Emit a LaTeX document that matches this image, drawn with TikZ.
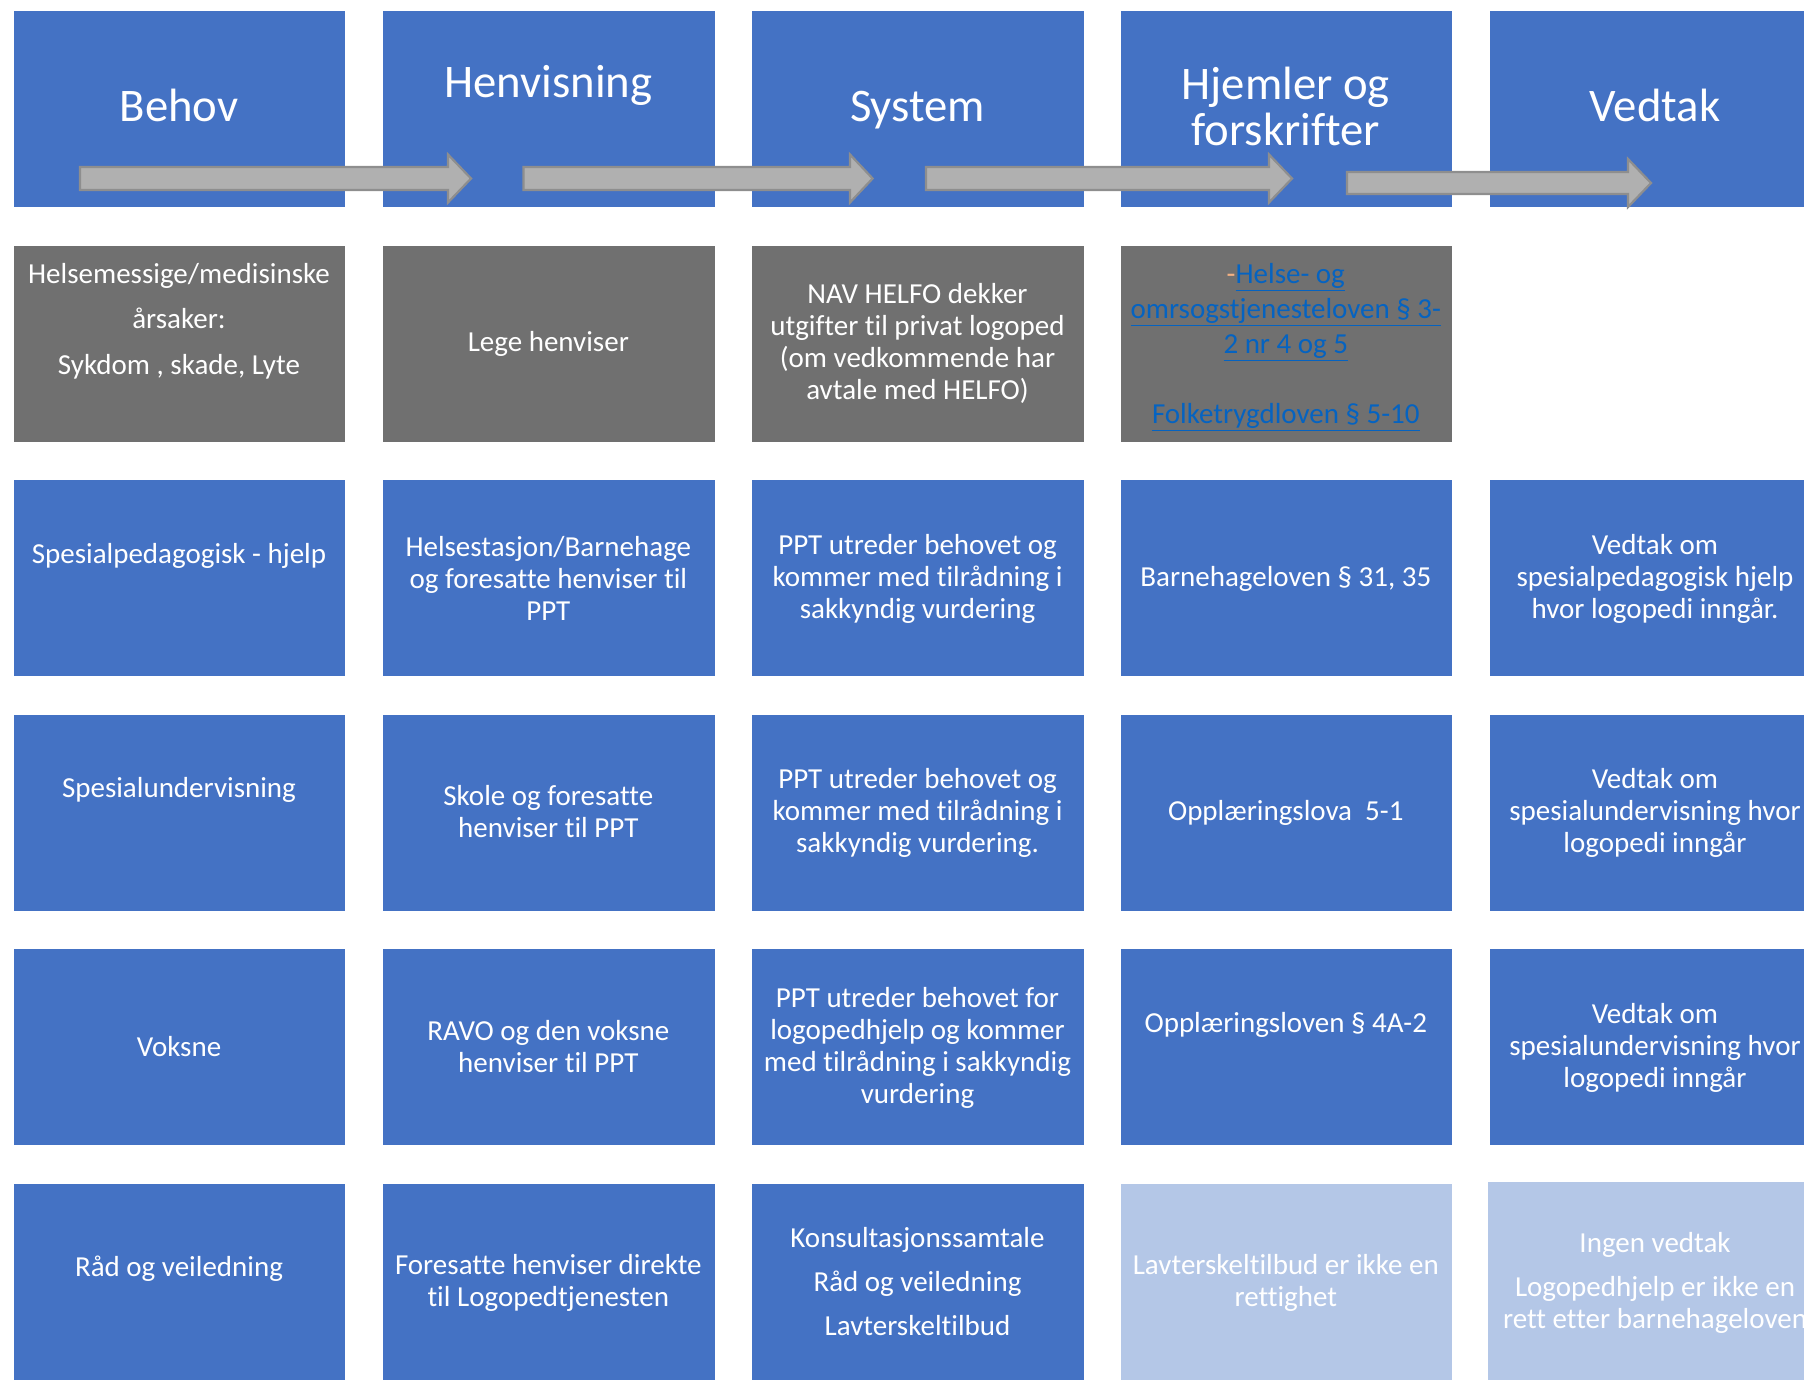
\documentclass[tikz,border=0pt]{standalone}
\usepackage{fontspec}
\setmainfont[Ligatures=NoCommon]{Carlito}
\definecolor{boxblue}{HTML}{4472C4}
\definecolor{boxgray}{HTML}{707070}
\definecolor{boxlight}{HTML}{B4C7E7}
\definecolor{linkblue}{HTML}{0563C1}
\definecolor{dashpeach}{HTML}{F4B183}
\definecolor{arrowfill}{HTML}{B0B0B0}
\definecolor{arrowline}{HTML}{8E8E8E}
\begin{document}
\begin{tikzpicture}[x=1pt,y=-1pt,
 cell/.style={draw=white, line width=0.8pt, minimum width=332.5pt, minimum height=197pt, inner sep=0pt, anchor=north west},
 bluecell/.style={cell, fill=boxblue},
 graycell/.style={cell, fill=boxgray},
 lightcell/.style={cell, fill=boxlight},
 lastrow/.style={minimum height=205pt},
 headtxt/.style={text=white, font=\fontsize{46.7}{46}\selectfont, align=center, inner sep=0pt},
 txt/.style={text=white, font=\fontsize{29}{32}\selectfont, align=center, inner sep=0pt},
 blockarrow/.style={fill=arrowfill, draw=arrowline, line width=2.2pt, line join=miter}]
\useasboundingbox (0,0) rectangle (1804,1380);
\clip (0,0) rectangle (1804,1380);

% header row
\node[bluecell] (h1) at (12.7,10) {};
\node[bluecell] (h2) at (382,10) {};
\node[bluecell] (h3) at (751.3,10) {};
\node[bluecell] (h4) at (1119.5,10) {};
\node[bluecell] (h5) at (1488.8,10) {};

% row 1 (gray)
\node[graycell] (a1) at (12.7,244.6) {};
\node[graycell] (a2) at (382,244.6) {};
\node[graycell] (a3) at (751.3,244.6) {};
\node[graycell] (a4) at (1119.5,244.6) {};

% row 2
\node[bluecell] (b1) at (12.7,479.2) {};
\node[bluecell] (b2) at (382,479.2) {};
\node[bluecell] (b3) at (751.3,479.2) {};
\node[bluecell] (b4) at (1119.5,479.2) {};
\node[bluecell] (b5) at (1488.8,479.2) {};

% row 3
\node[bluecell] (c1) at (12.7,713.8) {};
\node[bluecell] (c2) at (382,713.8) {};
\node[bluecell] (c3) at (751.3,713.8) {};
\node[bluecell] (c4) at (1119.5,713.8) {};
\node[bluecell] (c5) at (1488.8,713.8) {};

% row 4
\node[bluecell] (d1) at (12.7,948.4) {};
\node[bluecell] (d2) at (382,948.4) {};
\node[bluecell] (d3) at (751.3,948.4) {};
\node[bluecell] (d4) at (1119.5,948.4) {};
\node[bluecell] (d5) at (1488.8,948.4) {};

% row 5
\node[bluecell, lastrow] (e1) at (12.7,1183) {};
\node[bluecell, lastrow] (e2) at (382,1183) {};
\node[bluecell, lastrow] (e3) at (751.3,1183) {};
\node[lightcell, lastrow] (e4) at (1119.5,1183) {};
\node[lightcell, lastrow] (e5) at (1486.5,1180.5) {};

% header texts
\node[headtxt, anchor=base] (th1) at (179,122) {Behov};
\node[headtxt, anchor=base] (th2) at (548.3,98) {Henvisning};
\node[headtxt, anchor=base] (th3) at (917.5,122) {System};
\node[headtxt] (th4) at (1285.8,106) {Hjemler og\\forskrifter};
\node[headtxt, anchor=base] (th5) at (1655,122) {Vedtak};

% row 1 texts
\node[txt] (ta1) at (179,321) {Helsemessige/medisinske\\[13.5pt]årsaker:\\[13.5pt]Sykdom , skade, Lyte};
\node[txt] (ta2) at (548.3,344) {Lege henviser};
\node[txt] (ta3) at (917.5,343) {NAV HELFO dekker\\utgifter til privat logoped\\(om vedkommende har\\avtale med HELFO)};
\node[txt, font=\fontsize{29}{35}\selectfont] (ta4) at (1285.8,347)
 {\textcolor{dashpeach}{-}\textcolor{linkblue}{\underline{Helse- og}}\\
  \textcolor{linkblue}{\underline{omrsogstjenesteloven § 3-}}\\
  \textcolor{linkblue}{\underline{2 nr 4 og 5}}\\
  \mbox{}\\
  \textcolor{linkblue}{\underline{Folketrygdloven § 5-10}}};

% row 2 texts
\node[txt] (tb1) at (179,556) {Spesialpedagogisk - hjelp};
\node[txt] (tb2) at (548.3,578) {Helsestasjon/Barnehage\\og foresatte henviser til\\PPT};
\node[txt] (tb3) at (917.5,579) {PPT utreder behovet og\\kommer med tilrådning i\\sakkyndig vurdering};
\node[txt] (tb4) at (1285.8,579) {Barnehageloven § 31, 35};
\node[txt] (tb5) at (1655,579) {Vedtak om\\spesialpedagogisk hjelp\\hvor logopedi inngår.};

% row 3 texts
\node[txt] (tc1) at (179,790) {Spesialundervisning};
\node[txt] (tc2) at (548.3,812) {Skole og foresatte\\henviser til PPT};
\node[txt] (tc3) at (917.5,813) {PPT utreder behovet og\\kommer med tilrådning i\\sakkyndig vurdering.};
\node[txt] (tc4) at (1285.8,813) {Opplæringslova~~5-1};
\node[txt] (tc5) at (1655,813) {Vedtak om\\spesialundervisning hvor\\logopedi inngår};

% row 4 texts
\node[txt] (td1) at (179,1047) {Voksne};
\node[txt] (td2) at (548.3,1047) {RAVO og den voksne\\henviser til PPT};
\node[txt] (td3) at (917.5,1048) {PPT utreder behovet for\\logopedhjelp og kommer\\med tilrådning i sakkyndig\\vurdering};
\node[txt] (td4) at (1285.8,1025) {Opplæringsloven § 4A-2};
\node[txt] (td5) at (1655,1048) {Vedtak om\\spesialundervisning hvor\\logopedi inngår};

% row 5 texts
\node[txt] (te1) at (179,1269) {Råd og veiledning};
\node[txt] (te2) at (548.3,1283) {Foresatte henviser direkte\\til Logopedtjenesten};
\node[txt] (te3) at (917.5,1282) {Konsultasjonssamtale\\[12pt]Råd og veiledning\\[12pt]Lavterskeltilbud};
\node[txt] (te4) at (1285.8,1283) {Lavterskeltilbud er ikke en\\rettighet};
\node[txt] (te5) at (1655,1283) {Ingen vedtak\\[12.6pt]Logopedhjelp er ikke en\\rett etter barnehageloven};

% block arrows
\draw[blockarrow] (80,167)--(448,167)--(448,154.5)--(471,178.5)--(448,202.5)--(448,190)--(80,190)--cycle;
\draw[blockarrow] (523.5,167)--(850,167)--(850,154.5)--(872.6,178.5)--(850,202.5)--(850,190)--(523.5,190)--cycle;
\draw[blockarrow] (926,167)--(1269,167)--(1269,154.5)--(1292,178.5)--(1269,202.5)--(1269,190)--(926,190)--cycle;
\draw[blockarrow] (1347,172)--(1628,172)--(1628,159)--(1651,183)--(1628,207)--(1628,194)--(1347,194)--cycle;
\end{tikzpicture}
\end{document}
